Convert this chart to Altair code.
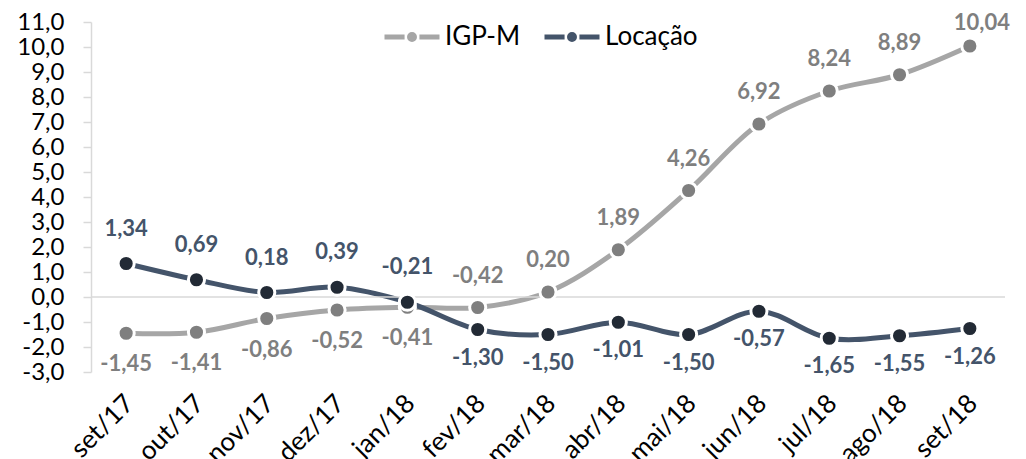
import altair as alt
import pandas as pd

MONTHS = ["set/17", "out/17", "nov/17", "dez/17", "jan/18", "fev/18", "mar/18",
          "abr/18", "mai/18", "jun/18", "jul/18", "ago/18", "set/18"]
IGPM = [-1.45, -1.41, -0.86, -0.52, -0.41, -0.42, 0.20, 1.89, 4.26, 6.92, 8.24, 8.89, 10.04]
LOCACAO = [1.34, 0.69, 0.18, 0.39, -0.21, -1.30, -1.50, -1.01, -1.50, -0.57, -1.65, -1.55, -1.26]
IGPM_LABEL_SIDE = ["below"] * 5 + ["above"] * 7 + ["corner"]
LOCACAO_LABEL_SIDE = ["above"] * 5 + ["below"] * 8
SERIES = ["IGP-M", "Locação"]
LINE_COLORS = ["#A6A6A6", "#44546A"]
MARKER_COLORS = ["#7F7F7F", "#222A35"]
Y_TICKS = list(range(-3, 12))

rows = []
for m, v, s in zip(MONTHS, IGPM, IGPM_LABEL_SIDE):
    rows.append({"month": m, "series": "IGP-M", "value": v, "side": s})
for m, v, s in zip(MONTHS, LOCACAO, LOCACAO_LABEL_SIDE):
    rows.append({"month": m, "series": "Locação", "value": v, "side": s})
df = pd.DataFrame(rows)

FONT = "Lato"

x_axis = alt.Axis(title=None, labelAngle=-45, labelAlign="right",
                  labelBaseline="middle", labelFontSize=26, labelColor="black",
                  labelFont=FONT, domain=False, ticks=False, labelPadding=27,
                  labelOffset=3, labelOverlap=False)
y_axis = alt.Axis(title=None, values=Y_TICKS, format=".1f", grid=False,
                  domainColor="#D9D9D9", domainWidth=1.5,
                  tickColor="#D9D9D9", tickSize=8, tickWidth=1.5,
                  labelFontSize=24, labelColor="black", labelFont=FONT,
                  labelPadding=19, labelOverlap=False, labelBound=False)
y_scale = alt.Scale(domain=[-3, 11], nice=False, zero=False)

x = alt.X("month:N", sort=MONTHS, scale=alt.Scale(type="point", padding=0.5), axis=x_axis)
y = alt.Y("value:Q", scale=y_scale, axis=y_axis)

LEGEND_PATH = ("M-1,0L-0.27,0M0.27,0L1,0"
               "M-0.09,0A0.09,0.09 0 1,0 0.09,0A0.09,0.09 0 1,0 -0.09,0")

base = alt.Chart(df)

lines = base.mark_line(strokeWidth=5, interpolate="catmull-rom").encode(
    x=x, y=y,
    color=alt.Color("series:N",
                    scale=alt.Scale(domain=SERIES, range=LINE_COLORS),
                    legend=alt.Legend(title=None, orient="none", legendX=291, legendY=-15,
                                      direction="horizontal", symbolType=LEGEND_PATH,
                                      symbolSize=3025, symbolStrokeWidth=5,
                                      labelFontSize=26, labelFont=FONT, labelColor="black",
                                      labelOffset=3, columnPadding=13)),
)

zero_rule = alt.Chart(pd.DataFrame({"value": [0]})).mark_rule(
    color="#D9D9D9", strokeWidth=1.5).encode(y=y)

points = base.mark_circle(size=260, stroke="white", strokeWidth=3, opacity=1).encode(
    x=x, y=y,
    fill=alt.Fill("series:N", scale=alt.Scale(domain=SERIES, range=MARKER_COLORS),
                  legend=None),
)

label_layers = []
for series, side, dx, dy, col in [("IGP-M", "above", 0, -32, "#7F7F7F"),
                                  ("IGP-M", "below", 0, 31, "#7F7F7F"),
                                  ("IGP-M", "corner", 12, -23, "#7F7F7F"),
                                  ("Locação", "above", 0, -35, "#44546A"),
                                  ("Locação", "below", 0, 28, "#44546A")]:
    label_layers.append(
        base.transform_filter(
            f"datum.series == '{series}' && datum.side == '{side}'"
        ).mark_text(font=FONT, fontWeight="bold", fontSize=22, dx=dx, dy=dy, color=col,
                    baseline="middle").encode(
            x=x, y=y, text=alt.Text("value:Q", format=".2f"))
    )

chart = alt.layer(lines, zero_rule, points, *label_layers).properties(
    width=914, height=350,
    padding={"left": 83, "top": 14, "right": 13, "bottom": 87},
    autosize="none",
).configure(
    locale={"number": {"decimal": ",", "thousands": ".", "grouping": [3],
                       "currency": ["R$", ""], "minus": "-"}}
).configure_view(stroke=None)

chart.save("out.html", embed_options={"renderer": "svg", "actions": False})
